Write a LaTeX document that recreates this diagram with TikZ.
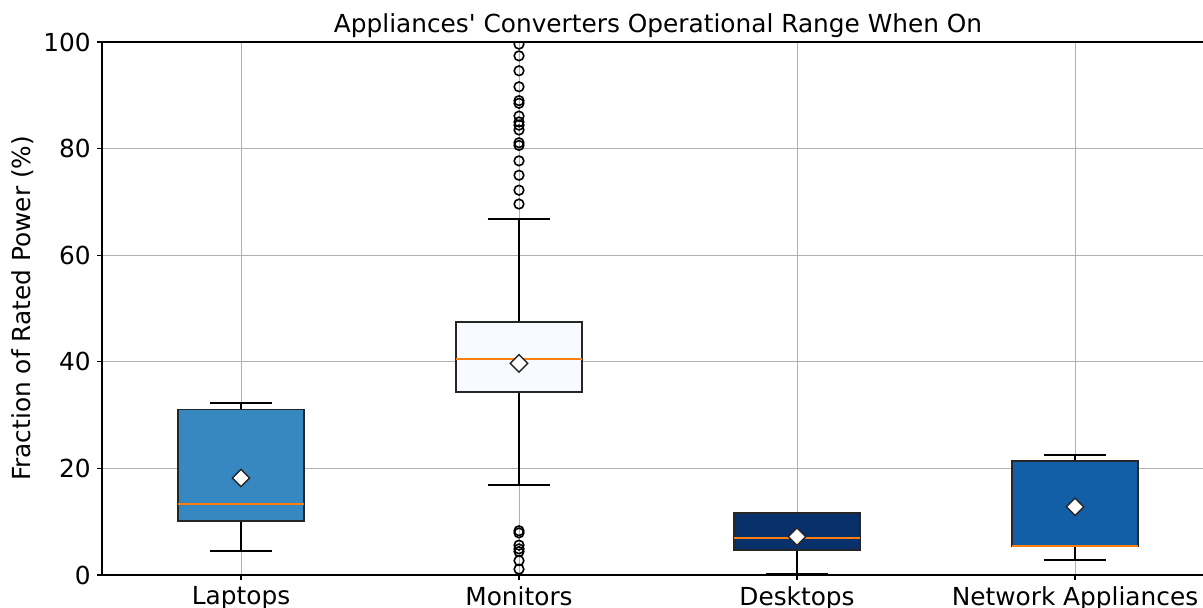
\documentclass[tikz,border=0pt]{standalone}
\usepackage{fontspec}
\setmainfont{DejaVu Sans}[Ligatures=TeXOff]
\usepackage{tikz}
\usetikzlibrary{shapes.geometric}

\definecolor{lapblue}{HTML}{3787C0}
\definecolor{monblue}{HTML}{F7FBFF}
\definecolor{deskblue}{HTML}{08306B}
\definecolor{netblue}{HTML}{135FA7}
\definecolor{medorange}{HTML}{FF7F0E}
\definecolor{gridgray}{HTML}{B0B0B0}

\begin{document}
\begin{tikzpicture}
    \tikzstyle{every node}=[inner sep=0pt, font=\fontsize{12.4}{15}\selectfont]
    \tikzstyle{gridline}=[draw=gridgray, line width=0.5pt]
    \tikzstyle{spine}=[draw=black, line width=0.6pt]
    \tikzstyle{boxedge}=[draw=black!85, line width=0.7pt]
    \tikzstyle{whisker}=[draw=black, line width=0.7pt]
    \tikzstyle{medianline}=[draw=medorange, line width=0.9pt]
    \tikzstyle{meanmark}=[diamond, draw=black!85, fill=white, line width=0.7pt, minimum width=9pt, minimum height=9pt]
    \tikzstyle{flier}=[draw=black, line width=0.8pt]

    \useasboundingbox (0,0) rectangle (601.5pt,303.5pt);

    \begin{scope}[shift={(-18.5pt,16pt)}, x=139pt, y=2.665pt]
        % grid
        \foreach \v in {0,20,...,100}
            \draw[gridline] (0.5,\v) -- (4.5,\v);
        \foreach \c in {1,...,4}
            \draw[gridline] (\c,0) -- (\c,100);

        % boxes: position / low / q1 / median / q3 / high / mean / colour / name
        \foreach \c/\lo/\qa/\md/\qb/\hi/\mn/\col/\name in {
                1/4.5/10.1/13.3/31.1/32.3/18.2/lapblue/Laptops,
                2/16.9/34.3/40.5/47.5/66.8/39.7/monblue/Monitors,
                3/0.2/4.7/7.0/11.6/11.6/7.2/deskblue/Desktops,
                4/2.8/5.4/5.4/21.4/22.5/12.8/netblue/Network Appliances} {
            \draw[whisker] (\c,\lo) -- (\c,\qa);
            \draw[whisker] (\c,\qb) -- (\c,\hi);
            \draw[whisker] (\c-0.113,\lo) -- (\c+0.113,\lo);
            \draw[whisker] (\c-0.113,\hi) -- (\c+0.113,\hi);
            \draw[boxedge, fill=\col] (\c-0.2266,\qa) rectangle (\c+0.2266,\qb);
            \draw[medianline] (\c-0.2266,\md) -- (\c+0.2266,\md);
            \node (mean\c) [meanmark] at (\c,\mn) {};
            \draw[spine] (\c,0) -- ++(0,-2.5pt);
            \node (cat\c) [anchor=north] at ([yshift=-5.6pt]\c,0) {\name};
        }

        % outliers of the monitors
        \begin{scope}
            \clip (0.5,0) rectangle (4.5,100);
            \foreach \v in {99.6,97.4,94.6,91.6,88.5,89.0,86.1,84.4,85.0,83.5,80.6,81.1,77.7,75.0,72.2,69.6,
                            8.3,7.9,5.6,4.9,4.4,2.7,1.1}
                \draw[flier] (2,\v) circle[radius=2.4pt];
        \end{scope}

        % axes
        \draw[spine] (0.5,0) rectangle (4.5,100);
        \foreach \v in {0,20,...,100} {
            \draw[spine] (0.5,\v) -- ++(-2.5pt,0);
            \node (tick\v) [anchor=east] at ([xshift=-5.5pt]0.5,\v) {\v};
        }
        \node (ylab) [rotate=90] at ([xshift=-39.75pt]0.5,50) {Fraction of Rated Power (\%)};
        \node (title) [anchor=base] at ([yshift=4.8pt]2.5,100) {Appliances' Converters Operational Range When On};
    \end{scope}
\end{tikzpicture}
\end{document}
